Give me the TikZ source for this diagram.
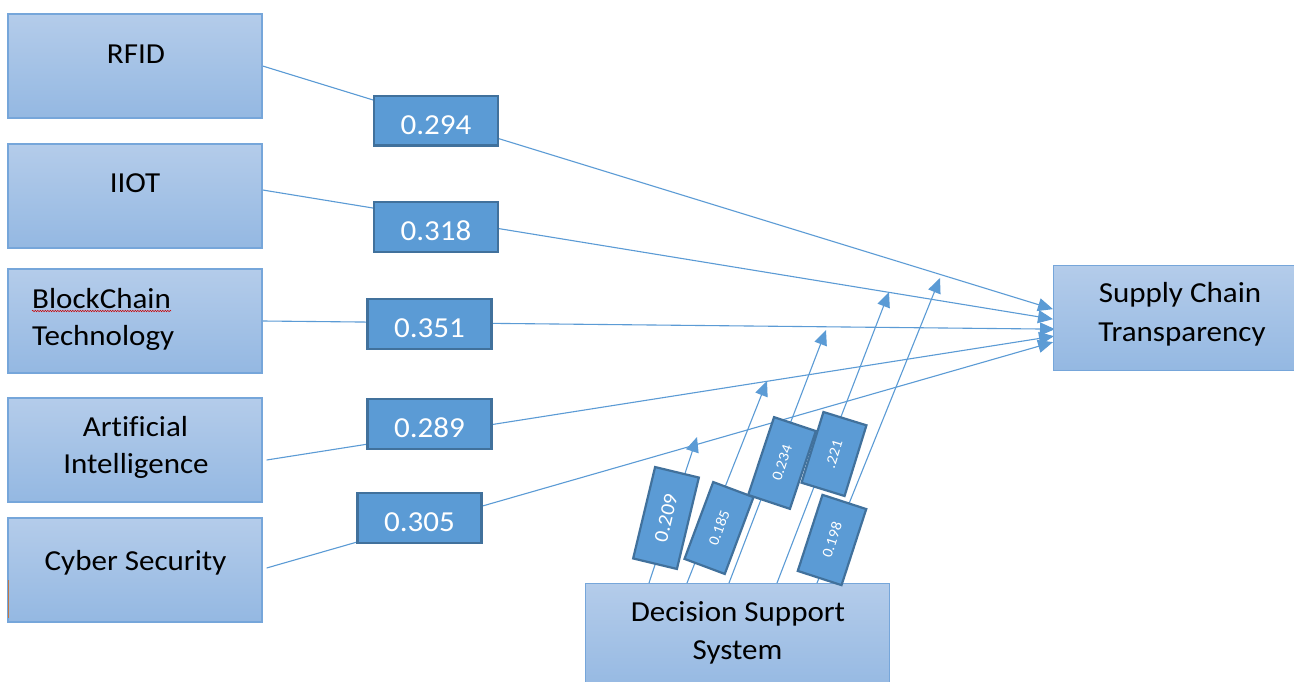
\documentclass[tikz,border=0pt]{standalone}
\usepackage{fontspec}
\setmainfont{Carlito}[FakeStretch=1.07, Ligatures=NoCommon]
\usetikzlibrary{arrows.meta,calc,decorations.pathmorphing}
\pgfdeclarelayer{bg}
\pgfsetlayers{bg,main}
\definecolor{boxtop}{RGB}{180,204,234}
\definecolor{boxbot}{RGB}{148,184,226}
\definecolor{boxline}{RGB}{118,166,218}
\definecolor{valfill}{RGB}{91,155,213}
\definecolor{valline}{RGB}{65,113,156}
\definecolor{connc}{RGB}{91,155,213}
\definecolor{markc}{RGB}{190,120,70}
\begin{document}
\begin{tikzpicture}[x=1pt,y=-1pt,
  srcbox/.style={rectangle, draw=boxline, line width=1.3pt, top color=boxtop, bottom color=boxbot, minimum width=254pt, minimum height=104pt, inner sep=0pt},
  lbl/.style={font=\fontsize{29}{34}\selectfont, text=black, inner sep=0pt, anchor=base},
  valbox/.style={rectangle, draw=valline, line width=2.2pt, fill=valfill, text=white, font=\fontsize{29}{34}\selectfont, minimum width=124pt, inner xsep=0pt, inner ysep=0pt, text height=38pt, text depth=11.5pt, anchor=north},
  rotbox/.style={rectangle, draw=valline, line width=2.2pt, fill=valfill, text=white, inner sep=0pt, minimum height=45pt},
  conn/.style={draw=connc, line width=1.1pt, -{Triangle[length=15pt,width=13pt]}}
]
\useasboundingbox (0,0) rectangle (1294,682);

% source boxes
\node[srcbox] (rfid) at (135,66) {};
\node[srcbox] (iiot) at (135,196) {};
\node[srcbox] (bc) at (135,321) {};
\node[srcbox] (ai) at (135,450) {};
\node[srcbox] (cs) at (135,570) {};
\node[srcbox, anchor=north west, minimum width=250pt, minimum height=105pt] (sct) at (1053,265) {};
\node[srcbox, anchor=north, minimum width=304pt, minimum height=110pt] (dss) at (737.5,583) {};

% texts
\node[lbl] (trfid) at (136,64) {RFID};
\node[lbl] (tiiot) at (135,193) {IIOT};
\node[lbl, anchor=base west] (tbc1) at (32,308) {BlockChain};
\node[lbl, anchor=base west] (tbc2) at (32,345) {Technology};
\node[lbl] (tai1) at (135.5,436) {Artificial};
\node[lbl] (tai2) at (136,473) {Intelligence};
\node[lbl] (tcs) at (135.5,570) {Cyber Security};
\node[lbl] (tdss1) at (738,621) {Decision Support};
\node[lbl] (tdss2) at (737.5,659) {System};
\node[lbl] (tsct1) at (1180,302) {Supply Chain};
\node[lbl] (tsct2) at (1182,341) {Transparency};

% spell-check underline and cursor mark
\draw[red!80!black, line width=0.5pt, decorate, decoration={snake, amplitude=0.7pt, segment length=2.5pt}]
  ($(tbc1.base west)+(0,3)$) -- ($(tbc1.base east)+(0,3)$);
\draw[markc, line width=1pt] ($(cs.west)+(1.5,10)$) -- ($(cs.west)+(1.5,48)$);

% value boxes
\node[valbox] (v1) at (436,95) {0.294};
\node[valbox] (v2) at (436,201) {0.318};
\node[valbox] (v3) at (429.5,298) {0.351};
\node[valbox] (v4) at (429.5,398) {0.289};
\node[valbox] (v5) at (419.5,492) {0.305};

% rotated value boxes
\node[rotbox, rotate=76.5, minimum width=94pt, font=\fontsize{20}{24}\selectfont] (r1) at (666,518) {0.209};
\node[rotbox, rotate=69.5, minimum width=82pt, minimum height=43pt, font=\fontsize{15}{18}\selectfont] (r2) at (719,528) {0.185};
\node[rotbox, rotate=71.6, minimum width=82pt, minimum height=44pt, font=\fontsize{15}{18}\selectfont] (r3) at (782,463) {0.234};
\node[rotbox, rotate=72.8, minimum width=74pt, minimum height=45pt, font=\fontsize{15}{18}\selectfont] (r4) at (834,454) {.221};
\node[rotbox, rotate=72, minimum width=80pt, minimum height=46pt, font=\fontsize{15}{18}\selectfont] (r5) at (832,540) {0.198};

% arrow end points from DSS
\coordinate (d1) at ($(dss.north)+(-88.5,0)$);
\coordinate (d2) at ($(dss.north)+(-50.5,0)$);
\coordinate (d3) at ($(dss.north)+(-8.5,0)$);
\coordinate (d4) at ($(dss.north)+(39.5,0)$);
\coordinate (d5) at ($(dss.north)+(79.5,0)$);
\coordinate (t1) at (697,437);
\coordinate (t2) at (767,381);
\coordinate (t3) at (826,330);
\coordinate (t4) at (889,292);
\coordinate (t5) at (940,278);

\begin{pgfonlayer}{bg}
\fill[white] (0,0) rectangle (1294,682);
\draw[conn] (rfid.east) -- ($(sct.west)+(0,-9)$);
\draw[conn] ($(iiot.east)+(0,-6)$) -- ($(sct.west)+(0,1)$);
\draw[conn] (bc.east) -- ($(sct.west)+(2,11)$);
\draw[conn] ($(ai.east)+(4,10)$) -- ($(sct.west)+(1,18)$);
\draw[conn] ($(cs.east)+(4,-2)$) -- ($(sct.west)+(0,24)$);
\draw[conn] (d1) -- (t1);
\draw[conn] (d2) -- (t2);
\draw[conn] (d3) -- (t3);
\draw[conn] (d4) -- (t4);
\draw[conn] (d5) -- (t5);
\end{pgfonlayer}
\end{tikzpicture}
\end{document}
